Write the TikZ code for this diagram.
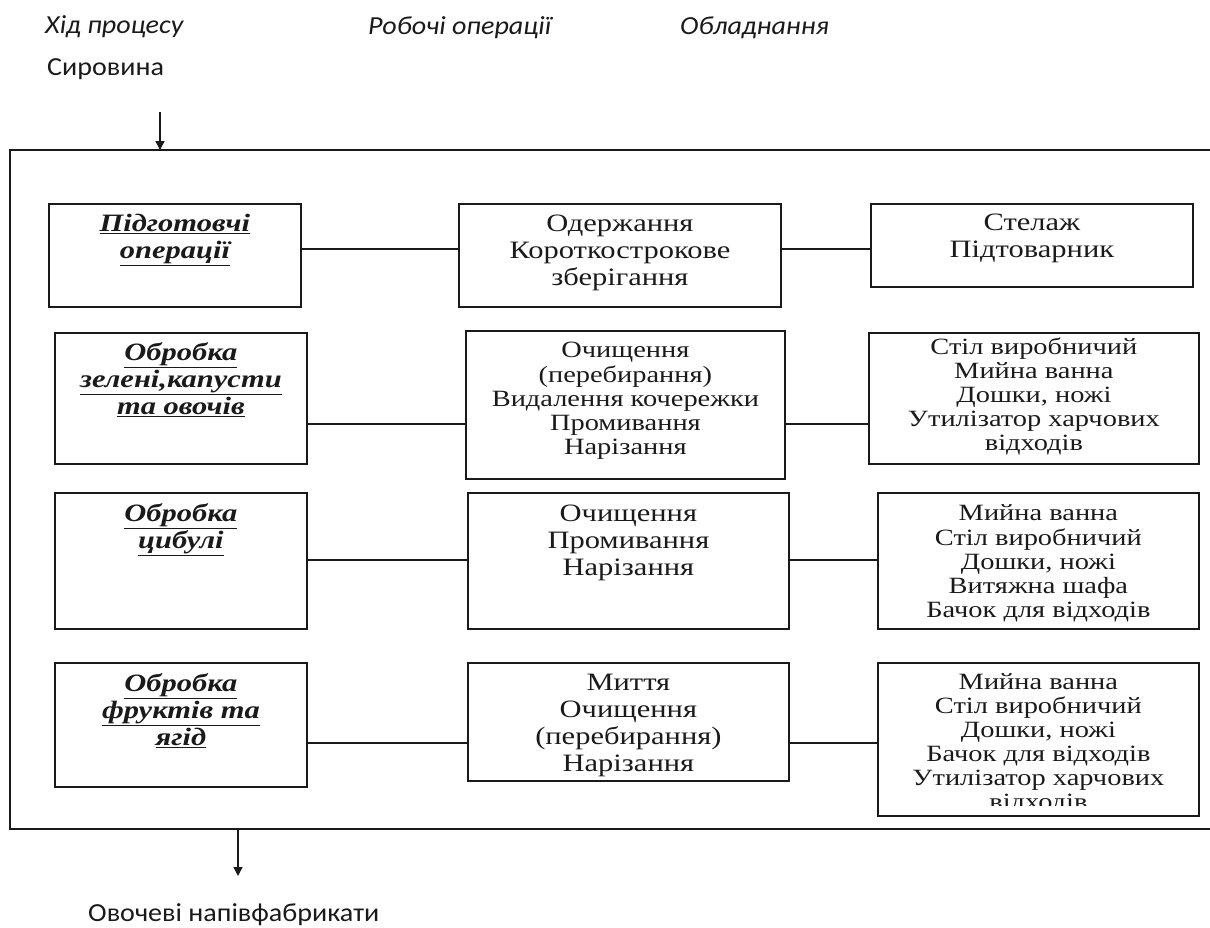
\documentclass[tikz,border=0pt]{standalone}
\usepackage{fontspec}
\setmainfont{Liberation Serif}[FakeStretch=1.22]
\newfontfamily\headfont{Carlito}[FakeStretch=1.08]
\usetikzlibrary{arrows.meta,calc}

\definecolor{ink}{HTML}{1A1A1A}

% text sizes used in the boxes
\newcommand\bigtext{\fontsize{25}{27}\selectfont}
\newcommand\smalltext{\fontsize{23.3}{23.8}\selectfont}
\newcommand\stagetext{\fontsize{25}{27}\selectfont\bfseries\itshape}
\newcommand\headtext{\headfont\fontsize{26}{30}\selectfont}
\newcommand\ul[1]{\underline{#1}}

% #1 width, #2 height, #3 top padding, #4 font, #5 lines
\newcommand\cellfill[5]{\parbox[t][#2pt][t]{#1pt}{\vspace*{#3pt}#4\centering\strut #5\par}}

\tikzset{
  cellbox/.style={draw=ink, line width=1.8pt, inner sep=0pt, anchor=north west, text=ink},
  link/.style={draw=ink, line width=1.4pt},
  frameline/.style={draw=ink, line width=1.7pt},
  flow/.style={draw=ink, line width=1.4pt, -{Triangle[length=9pt,width=9pt]}},
  heading/.style={inner sep=0pt, anchor=base west, text=ink, font=\headtext},
}

\begin{document}
\begin{tikzpicture}[x=1pt,y=-1pt]
\useasboundingbox (0,0) rectangle (1210,927);

% column headings and input
\node[heading] (hProc) at (45,33) {\itshape Хід процесу};
\node[heading] (hOps)  at (368,34) {\itshape Робочі операції};
\node[heading] (hEq)   at (680,34) {\itshape Обладнання};
\node[heading] (raw)   at (47,75) {Сировина};

% outer frame (open on the right)
\coordinate (fTL) at (10,150);
\coordinate (fTR) at (1210,150);
\coordinate (fBL) at (10,829);
\coordinate (fBR) at (1210,829);
\draw[frameline] (fTR) -- (fTL) -- (fBL) -- (fBR);

% row 1
\node[cellbox] (L1) at (48,203) {\cellfill{252}{103}{8.6}{\stagetext}{\ul{Підготовчі}\\ \ul{операції}}};
\node[cellbox] (M1) at (458,203) {\cellfill{322}{103}{8.6}{\bigtext}{Одержання\\ Короткострокове\\ зберігання}};
\node[cellbox] (R1) at (870,203) {\cellfill{322}{83}{7.6}{\bigtext}{Стелаж\\ Підтоварник}};

% row 2
\node[cellbox] (L2) at (54,332) {\cellfill{252}{131}{8.6}{\stagetext}{\ul{Обробка}\\ \ul{зелені,капусти}\\ \ul{та овочів}}};
\node[cellbox] (M2) at (465,330) {\cellfill{319}{148}{10.3}{\smalltext}{Очищення\\ (перебирання)\\ Видалення кочережки\\ Промивання\\ Нарізання}};
\node[cellbox] (R2) at (868,332) {\cellfill{330}{131}{5.3}{\smalltext}{Стіл виробничий\\ Мийна ванна\\ Дошки, ножі\\ Утилізатор харчових\\ відходів}};

% row 3
\node[cellbox] (L3) at (54,492) {\cellfill{252}{136}{9.6}{\stagetext}{\ul{Обробка}\\ \ul{цибулі}}};
\node[cellbox] (M3) at (467,492) {\cellfill{321}{136}{9.6}{\bigtext}{Очищення\\ Промивання\\ Нарізання}};
\node[cellbox] (R3) at (877,492) {\cellfill{321}{136}{11.3}{\smalltext}{Мийна ванна\\ Стіл виробничий\\ Дошки, ножі\\ Витяжна шафа\\ Бачок для відходів}};

% row 4
\node[cellbox] (L4) at (54,662) {\cellfill{252}{124}{9.6}{\stagetext}{\ul{Обробка}\\ \ul{фруктів та}\\ \ul{ягід}}};
\node[cellbox] (M4) at (467,662) {\cellfill{321}{118}{8.6}{\bigtext}{Миття\\ Очищення\\ (перебирання)\\ Нарізання}};
\node[cellbox, minimum width=321pt, minimum height=153pt] (R4) at (877,662) {};
\begin{scope}
  % the last line runs past the box padding and is cut off
  \clip (R4.north west) rectangle ($(R4.south east)+(0,-11)$);
  \node[inner sep=0pt, anchor=north, text=ink] (R4text) at (R4.north)
    {\cellfill{321}{170}{10.3}{\smalltext}{Мийна ванна\\ Стіл виробничий\\ Дошки, ножі\\ Бачок для відходів\\ Утилізатор харчових\\ відходів}};
\end{scope}

% row connectors
\coordinate (y1) at (0,249);
\coordinate (y2) at (0,424);
\coordinate (y3) at (0,560);
\coordinate (y4) at (0,743);
\foreach \r in {1,2,3,4}{
  \draw[link] (L\r.east |- y\r) -- (M\r.west |- y\r);
  \draw[link] (M\r.east |- y\r) -- (R\r.west |- y\r);
}

% flow into and out of the frame
\coordinate (inStart) at (160,112);
\draw[flow] (inStart) -- (inStart |- fTL);
\coordinate (outStart) at (238,829);
\coordinate (outEnd) at (238,876);
\draw[flow] (outStart) -- (outEnd);
\node[heading] (product) at (88,921) {Овочеві напівфабрикати};
\end{tikzpicture}
\end{document}
